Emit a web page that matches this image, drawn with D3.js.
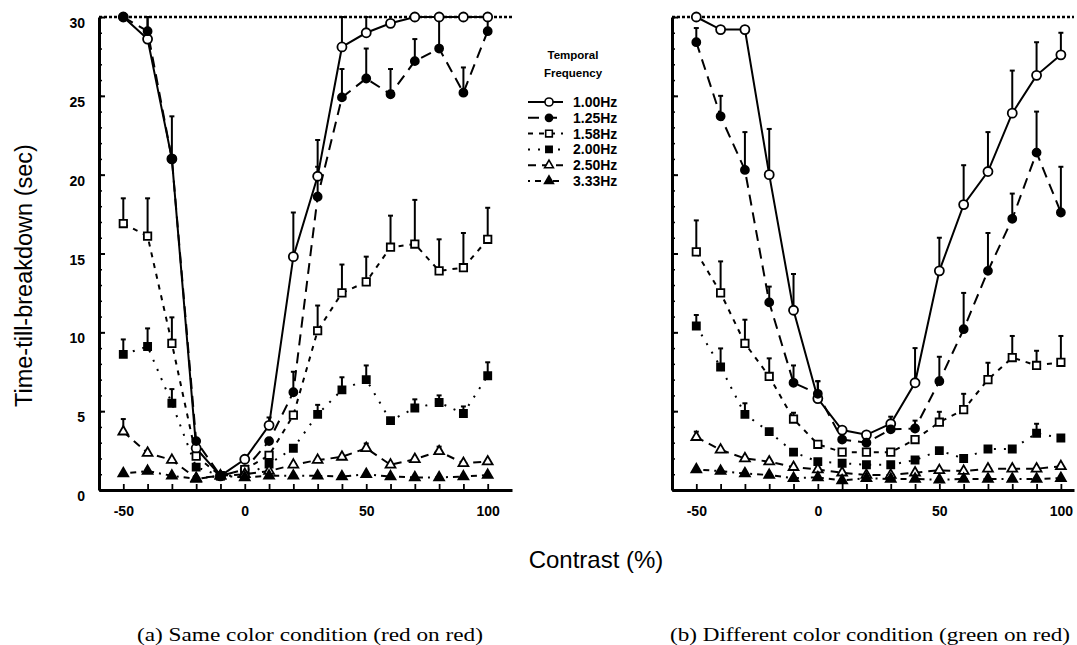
<!DOCTYPE html>
<html><head><meta charset="utf-8">
<script src="https://cdn.jsdelivr.net/npm/d3@7"></script>
<style>body{margin:0;background:#fff}svg{display:block}</style>
</head><body>
<svg id="c" width="1077" height="645"></svg>
<script>
// ---- data ----
const contrast = [-50,-40,-30,-20,-10,0,10,20,30,40,50,60,70,80,90,100];
const freqLabels = ["1.00Hz","1.25Hz","1.58Hz","2.00Hz","2.50Hz","3.33Hz"];
const yTicks = [0,5,10,15,20,25,30];
const xTickLabels = [-50,0,50,100];
const ceiling = 30;

// (a) same color condition: means
const a100 = [30,28.6,21.0,2.65,0.9,1.95,4.1,14.8,19.9,28.1,29.0,29.6,30,30,30,30];
const a125 = [30,29.1,21.0,3.1,0.9,1.3,3.1,6.2,18.6,24.9,26.1,25.1,27.2,28.0,25.2,29.1];
const a158 = [16.9,16.1,9.3,2.15,0.9,1.3,2.2,4.75,10.1,12.5,13.2,15.4,15.6,13.9,14.1,15.9];
const a200 = [8.6,9.1,5.5,1.45,0.9,0.9,1.65,2.65,4.8,6.35,7.0,4.4,5.2,5.55,4.85,7.25];
const a250 = [3.7,2.35,1.9,0.75,0.9,1.0,1.2,1.6,1.9,2.1,2.65,1.6,1.95,2.45,1.7,1.8];
const a333 = [1.05,1.2,0.9,0.7,0.9,0.8,0.9,0.9,0.9,0.85,1.0,0.85,0.8,0.8,0.85,0.95];
// (a) error bar tops
const a100e = [null,30,null,null,null,null,4.6,17.6,22.2,30,30,null,null,null,null,null];
const a125e = [null,30,23.7,null,null,null,null,7.5,20.5,26.7,28.0,26.7,28.6,30,26.8,30];
const a158e = [18.5,18.5,10.95,null,null,null,null,null,11.7,14.3,14.8,17.4,18.4,15.9,16.3,17.9];
const a200e = [9.55,10.25,6.4,null,null,null,null,null,5.4,7.15,7.9,null,5.75,6.0,5.3,8.1];
const a250e = [4.5,null,null,null,null,null,null,null,null,null,2.95,null,null,2.75,null,null];
const a333e = [null,null,null,null,null,null,null,null,null,null,null,null,null,null,null,null];

// (b) different color condition: means
const b100 = [30,29.2,29.2,20.0,11.4,5.8,3.8,3.5,4.2,6.8,13.9,18.1,20.2,23.9,26.3,27.6];
const b125 = [28.4,23.7,20.3,11.9,6.8,6.1,3.2,3.0,3.85,3.9,6.9,10.2,13.9,17.2,21.4,17.6];
const b158 = [15.1,12.5,9.3,7.2,4.5,2.9,2.4,2.4,2.4,3.2,4.3,5.1,7.0,8.4,7.9,8.1];
const b200 = [10.4,7.8,4.8,3.7,2.4,1.8,1.7,1.6,1.6,1.9,2.5,2.0,2.6,2.6,3.6,3.3];
const b250 = [3.35,2.55,2.0,1.8,1.45,1.3,1.1,0.95,0.95,1.1,1.25,1.2,1.35,1.35,1.35,1.5];
const b333 = [1.3,1.2,1.05,0.95,0.75,0.8,0.6,0.75,0.7,0.7,0.65,0.7,0.7,0.7,0.7,0.75];
// (b) error bar tops
const b100e = [null,null,null,22.9,13.7,6.9,null,null,4.65,9.0,16.0,20.6,22.7,26.6,28.4,29.0];
const b125e = [29.3,25.0,22.7,12.9,7.9,6.9,null,null,null,4.4,8.45,12.5,16.3,18.8,24.0,20.5];
const b158e = [17.1,14.5,10.8,8.35,4.9,null,null,null,null,null,4.96,6.1,8.07,9.77,8.83,9.77];
const b200e = [11.1,8.98,5.5,null,null,null,null,null,null,null,null,null,null,null,4.2,null];
const b250e = [3.7,null,null,null,null,null,null,null,null,null,null,null,null,null,null,null];
const b333e = [null,null,null,null,null,null,null,null,null,null,null,null,null,null,null,null];

// ---- styles ----
const styles = [
  {dash:null,       sym:d3.symbolCircle,   fill:"#fff", size:64},
  {dash:"11,7",     sym:d3.symbolCircle,   fill:"#000", size:50},
  {dash:"5,6",      sym:d3.symbolSquare,   fill:"#fff", size:55},
  {dash:"2,8",      sym:d3.symbolSquare,   fill:"#000", size:50},
  {dash:"8,6",      sym:d3.symbolTriangle, fill:"#fff", size:42},
  {dash:"2,5,6,5",  sym:d3.symbolTriangle, fill:"#000", size:42}
];

const svg = d3.select("#c");
const FONT = "'Liberation Sans', Arial, sans-serif";

function panel(x0, x1, dom, series, errs, showYLabels){
  const x = d3.scaleLinear().domain(dom).range([x0, x1]);
  const y = d3.scaleLinear().domain([0, 30]).range([490, 17]);
  const g = svg.append("g");

  // ceiling dotted line
  g.append("line").attr("x1", x0).attr("x2", x1).attr("y1", y(ceiling)).attr("y2", y(ceiling))
    .attr("stroke","#000").attr("stroke-width",2.4).attr("stroke-dasharray","3,2");

  // minor y ticks
  g.append("g").attr("transform",`translate(${x0},0)`)
    .call(d3.axisLeft(y).tickValues(d3.range(0,31,1)).tickSize(-3).tickSizeOuter(0).tickFormat(""))
    .call(s=>s.select(".domain").remove())
    .call(s=>s.selectAll("line").attr("stroke-width",1.5));
  // major y ticks
  const ya = g.append("g").attr("transform",`translate(${x0},0)`)
    .call(d3.axisLeft(y).tickValues(yTicks).tickSize(-6).tickSizeOuter(0).tickPadding(14)
      .tickFormat(showYLabels ? d3.format("d") : ""));
  ya.select(".domain").attr("stroke-width",3);
  ya.selectAll("line").attr("stroke-width",2);
  ya.selectAll("text").attr("font-family",FONT).attr("font-weight","bold").attr("font-size",14)
    .attr("fill","#000").attr("dy","0.75em");

  // x axis
  const xa = g.append("g").attr("transform","translate(0,490)")
    .call(d3.axisBottom(x).tickValues(contrast).tickSize(-6).tickSizeOuter(0)
      .tickPadding(16).tickFormat(d => xTickLabels.includes(d) ? d : ""));
  xa.select(".domain").attr("stroke-width",3);
  xa.selectAll("line").attr("stroke-width",1.8);
  xa.selectAll("text").attr("font-family",FONT).attr("font-weight","bold").attr("font-size",14).attr("fill","#000");

  // error bars
  series.forEach((vals, si) => {
    const e = errs[si];
    contrast.forEach((c, i) => {
      if (e[i] == null) return;
      g.append("line").attr("x1",x(c)).attr("x2",x(c)).attr("y1",y(vals[i])).attr("y2",y(e[i]))
        .attr("stroke","#000").attr("stroke-width",2);
      g.append("line").attr("x1",x(c)-2.5).attr("x2",x(c)+2.5).attr("y1",y(e[i])).attr("y2",y(e[i]))
        .attr("stroke","#000").attr("stroke-width",2);
    });
  });
  // lines
  series.forEach((vals, si) => {
    const line = d3.line().x((d,i)=>x(contrast[i])).y(d=>y(d));
    g.append("path").attr("d", line(vals)).attr("fill","none").attr("stroke","#000")
      .attr("stroke-width",2).attr("stroke-dasharray", styles[si].dash);
  });
  // markers
  series.forEach((vals, si) => {
    const st = styles[si];
    g.selectAll(null).data(vals).enter().append("path")
      .attr("d", d3.symbol().type(st.sym).size(st.size))
      .attr("transform",(d,i)=>`translate(${x(contrast[i])},${y(d)})`)
      .attr("fill", st.fill).attr("stroke","#000").attr("stroke-width",1.8);
  });
}

panel(99, 512, [-60, 110], [a100,a125,a158,a200,a250,a333], [a100e,a125e,a158e,a200e,a250e,a333e], true);
panel(672, 1074, [-60, 105.4], [b100,b125,b158,b200,b250,b333], [b100e,b125e,b158e,b200e,b250e,b333e], false);

// legend
const lg = svg.append("g");
lg.append("text").attr("x",573).attr("y",59).attr("text-anchor","middle")
  .attr("font-family",FONT).attr("font-weight","bold").attr("font-size",11.5).text("Temporal");
lg.append("text").attr("x",573).attr("y",77).attr("text-anchor","middle")
  .attr("font-family",FONT).attr("font-weight","bold").attr("font-size",11.5).text("Frequency");
freqLabels.forEach((lab, i) => {
  const yy = 102 + i*15.8;
  const st = styles[i];
  lg.append("line").attr("x1",528).attr("x2",563).attr("y1",yy).attr("y2",yy)
    .attr("stroke","#000").attr("stroke-width",2).attr("stroke-dasharray", st.dash);
  lg.append("path").attr("d", d3.symbol().type(st.sym).size(st.size*0.8))
    .attr("transform",`translate(549,${yy})`).attr("fill",st.fill).attr("stroke","#000").attr("stroke-width",1.6);
  lg.append("text").attr("x",573).attr("y",yy+5).attr("font-family",FONT)
    .attr("font-weight","bold").attr("font-size",14).text(lab);
});

// axis titles
svg.append("text").attr("transform","translate(32,407) rotate(-90)")
  .attr("font-family",FONT).attr("font-size",23.5).text("Time-till-breakdown  (sec)");
svg.append("text").attr("x",596).attr("y",568).attr("text-anchor","middle")
  .attr("font-family",FONT).attr("font-size",24).text("Contrast  (%)");

// captions
const SERIF = "'Liberation Serif', 'Times New Roman', serif";
svg.append("text").attr("x",137).attr("y",641)
  .attr("font-family",SERIF).attr("font-size",19)
  .attr("textLength",346).attr("lengthAdjust","spacingAndGlyphs")
  .text("(a)  Same color condition (red on red)");
svg.append("text").attr("x",670).attr("y",641)
  .attr("font-family",SERIF).attr("font-size",19)
  .attr("textLength",400).attr("lengthAdjust","spacingAndGlyphs")
  .text("(b)  Different color condition (green on red)");
</script>
</body></html>
